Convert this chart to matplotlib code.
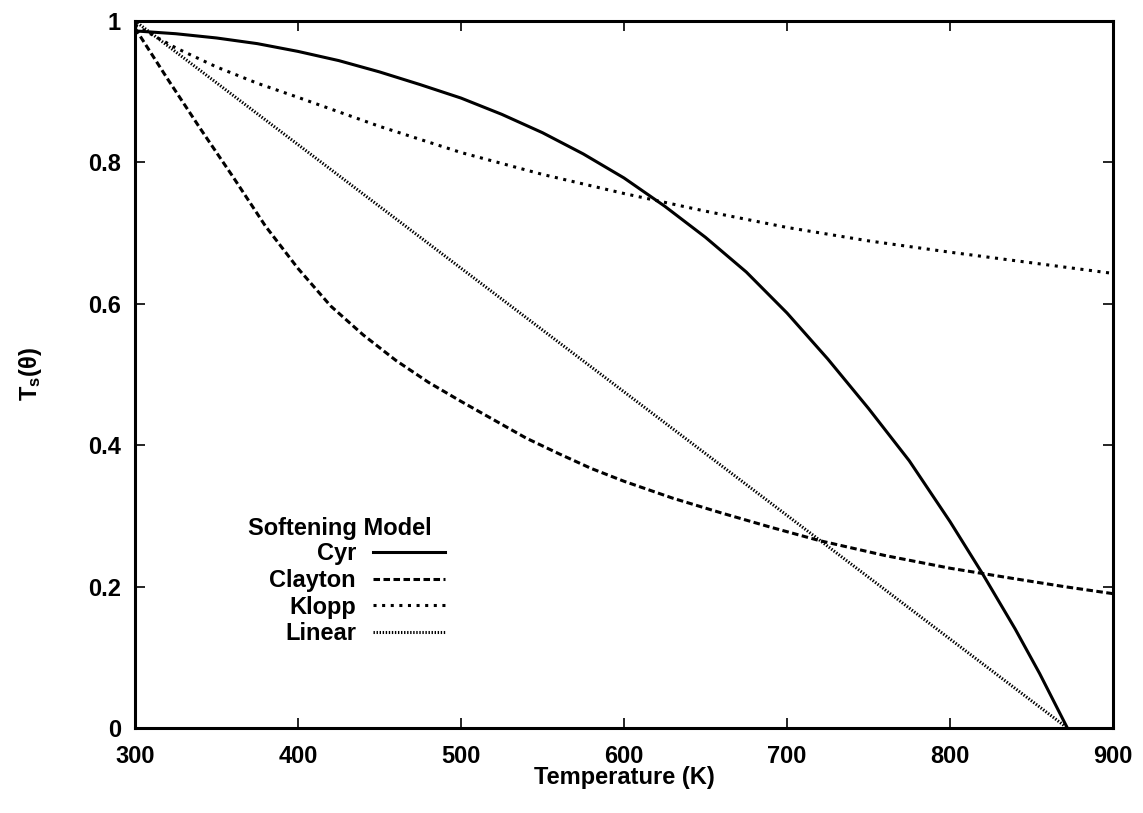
import matplotlib
matplotlib.use('Agg')
import matplotlib.pyplot as plt

# values
cyr_T = [300, 325, 350, 375, 400, 425, 450, 475, 500, 525, 550, 575, 600, 625, 650, 675, 700,
         725, 750, 775, 800, 820, 840, 855, 872]
cyr_v = [0.986, 0.982, 0.976, 0.968, 0.957, 0.944, 0.928, 0.910, 0.891, 0.868, 0.842, 0.812, 0.778,
         0.738, 0.694, 0.645, 0.587, 0.522, 0.452, 0.378, 0.292, 0.218, 0.140, 0.077, 0.0]

clayton_T = [300, 320, 340, 360, 380, 400, 420, 440, 460, 480, 500, 520, 540, 560, 580, 600,
             630, 660, 690, 720, 760, 800, 840, 870, 900]
clayton_v = [0.990, 0.918, 0.848, 0.780, 0.710, 0.650, 0.597, 0.556, 0.520, 0.489, 0.462, 0.436,
             0.410, 0.388, 0.367, 0.349, 0.325, 0.304, 0.284, 0.265, 0.244, 0.226, 0.211, 0.200, 0.190]

klopp_T = [300, 325, 350, 375, 400, 450, 500, 550, 600, 650, 700, 750, 800, 850, 900]
klopp_v = [0.994, 0.962, 0.935, 0.912, 0.892, 0.851, 0.814, 0.783, 0.756, 0.731, 0.708, 0.689,
           0.673, 0.658, 0.643]

linear_T = [300, 872]
linear_v = [1.0, 0.0]

labels = ['Cyr', 'Clayton', 'Klopp', 'Linear']

plt.rcParams['font.family'] = ['Liberation Sans', 'DejaVu Sans']
plt.rcParams['font.weight'] = 'bold'
plt.rcParams['axes.labelweight'] = 'bold'
plt.rcParams['font.size'] = 17
plt.rcParams['mathtext.fontset'] = 'custom'
plt.rcParams['mathtext.rm'] = 'Liberation Sans:bold'
plt.rcParams['mathtext.it'] = 'Liberation Sans:bold'
plt.rcParams['lines.scale_dashes'] = False

fig = plt.figure(figsize=(11.43, 8.13), dpi=100)
ax = fig.add_axes([135 / 1143, 1 - 728 / 813, 978 / 1143, 707 / 813])

lw = 2.2
ax.plot(cyr_T, cyr_v, color='black', lw=lw, linestyle='-', label=labels[0])
ax.plot(clayton_T, clayton_v, color='black', lw=lw, linestyle=(0, (4.7, 2.5)), label=labels[1])
ax.plot(klopp_T, klopp_v, color='black', lw=lw, linestyle=(0, (2.2, 4.0)), label=labels[2])
ax.plot(linear_T, linear_v, color='black', lw=lw, linestyle=(0, (1.0, 1.2)), label=labels[3])

ax.set_xlim(300, 900)
ax.set_ylim(0, 1)
ax.set_xticks([300, 400, 500, 600, 700, 800, 900])
ax.set_yticks([0, 0.2, 0.4, 0.6, 0.8, 1.0])
ax.set_yticklabels(['0', '0.2', '0.4', '0.6', '0.8', '1'])
ax.tick_params(direction='in', length=7, width=1.2, top=True, right=True)
ax.tick_params(axis='x', pad=12)
ax.tick_params(axis='y', pad=10)
for sp in ax.spines.values():
    sp.set_linewidth(2.2)

ax.set_xlabel('Temperature (K)')
ax.xaxis.set_label_coords(0.5, -0.070)
ax.xaxis.label.set_va('center')
ax.set_ylabel(r'T$_\mathrm{s}$($\theta$)')
ax.yaxis.set_label_coords(-0.107, 0.5)
ax.yaxis.label.set_va('center')

leg = ax.legend(loc='upper right', bbox_to_anchor=(445 / 1143, 1 - 542 / 813),
                bbox_transform=fig.transFigure, frameon=False, markerfirst=False,
                handlelength=3.05, handletextpad=0.72, labelspacing=0.16, borderpad=0,
                borderaxespad=0)
fig.text(432 / 1143, 1 - 529 / 813, 'Softening Model', ha='right', va='center')

fig.savefig('out.png', dpi=100)
